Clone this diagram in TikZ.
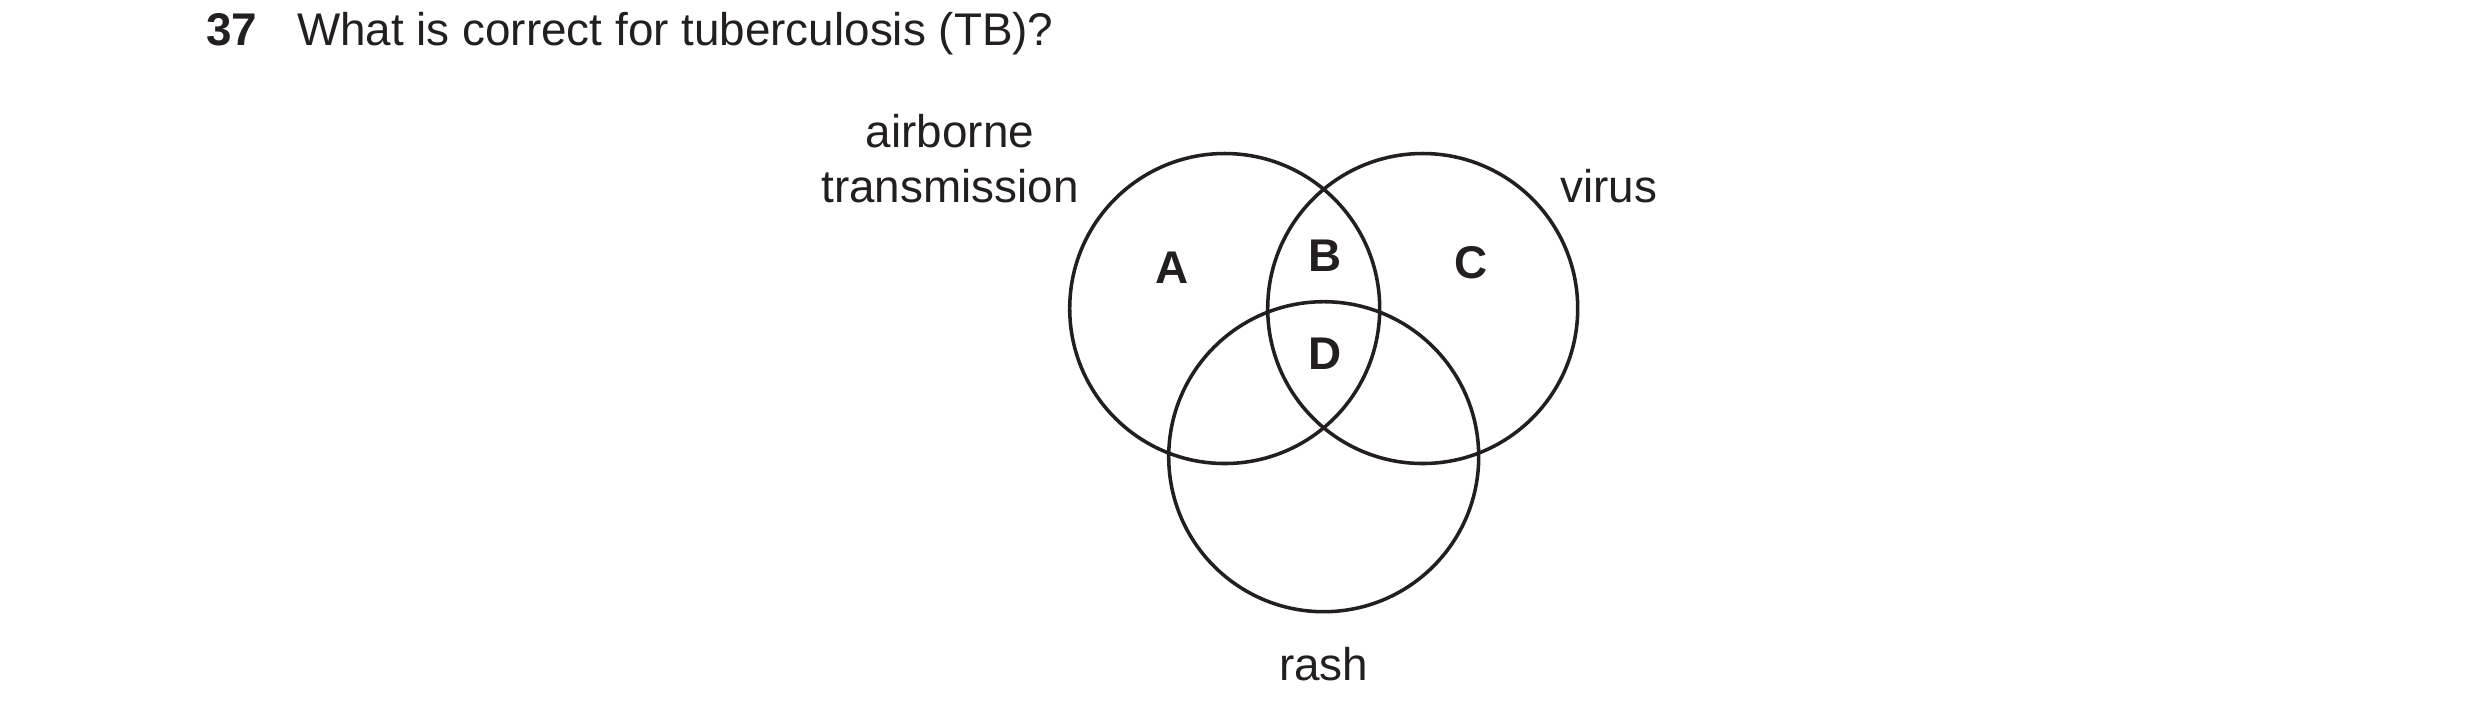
\documentclass[tikz,border=0pt]{standalone}
\usepackage{fontspec}
\setmainfont{Liberation Sans}
\definecolor{ink}{RGB}{35,31,32}
\begin{document}
\begin{tikzpicture}[x=0.24pt,y=-0.24pt,
  every node/.style={inner sep=0pt,outer sep=0pt,text=ink,font=\fontsize{11pt}{13.2pt}\selectfont},
  lbl/.style={anchor=base},
  region/.style={anchor=base,font=\fontsize{11pt}{13.2pt}\selectfont\bfseries},
  setcircle/.style={draw=ink,line width=0.85pt}]
\useasboundingbox (0,0) rectangle (2480,722);
% title
\node[anchor=base west,font=\fontsize{11pt}{13.2pt}\selectfont\bfseries] (num) at (206.5,45.7) {37};
\node[anchor=base west] (question) at (297,45.7) {What is correct for tuberculosis (TB)?};
% circles
\draw[setcircle] (1224.7,308.5) circle[radius=155];
\draw[setcircle] (1422.7,308.5) circle[radius=155];
\draw[setcircle] (1323.7,456.7) circle[radius=155];
% set labels
\node[lbl] (air1) at (950,147.5) {airborne};
\node[lbl] (air2) at (950,202.5) {transmission};
\node[lbl] (virus) at (1608.8,202.5) {virus};
\node[lbl] (rash) at (1323.7,680.5) {rash};
% region letters
\node[region] (A) at (1172.5,283.3) {A};
\node[region] (B) at (1324.7,271.7) {B};
\node[region] (C) at (1471.3,278) {C};
\node[region] (D) at (1324.7,369) {D};
\end{tikzpicture}
\end{document}
